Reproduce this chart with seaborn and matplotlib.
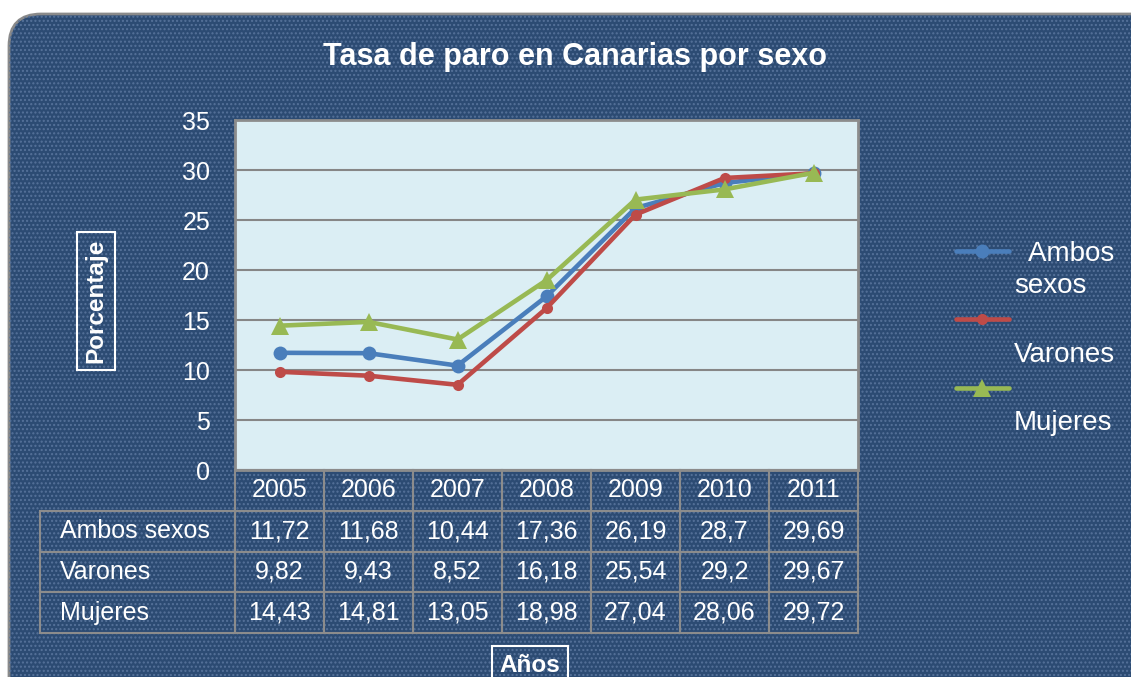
import numpy as np
import pandas as pd
import seaborn as sns
import matplotlib.pyplot as plt
from matplotlib.patches import FancyBboxPatch

years = ["2005", "2006", "2007", "2008", "2009", "2010", "2011"]
ambos = [11.72, 11.68, 10.44, 17.36, 26.19, 28.7, 29.69]
varones = [9.82, 9.43, 8.52, 16.18, 25.54, 29.2, 29.67]
mujeres = [14.43, 14.81, 13.05, 18.98, 27.04, 28.06, 29.72]
series_names = ["Ambos sexos", "Varones", "Mujeres"]
legend_labels = ["  Ambos\nsexos", "\nVarones", "\nMujeres"]
series_colors = ["#4A7EBB", "#BE4B48", "#98B954"]
series_markers = ["o", "o", "^"]
series_msize = [10, 8, 13]

df = pd.DataFrame({
    "x": np.tile(np.arange(len(years)), 3),
    "valor": ambos + varones + mujeres,
    "serie": np.repeat(series_names, len(years)),
})

sns.set_theme(style="white")
plt.rcParams['font.family'] = ['Liberation Sans', 'DejaVu Sans']

W, H = 1131, 677
fig = plt.figure(figsize=(W / 100, H / 100), dpi=100)
fig.patch.set_facecolor("white")

# fondo azul con trama
bg = FancyBboxPatch((0.09, -0.5), 12, 6.63 + 0.5,
                    boxstyle="round,pad=0,rounding_size=0.32",
                    transform=fig.dpi_scale_trans, facecolor="#2C4B73",
                    edgecolor="#8a8a8a", linewidth=2, zorder=-5)
fig.patches.append(bg)
bg2 = FancyBboxPatch((0.09, -0.5), 12, 6.63 + 0.5,
                     boxstyle="round,pad=0,rounding_size=0.32",
                     transform=fig.dpi_scale_trans, facecolor="none",
                     edgecolor="#56729a", hatch="....", linewidth=0, zorder=-4)
fig.patches.append(bg2)

ax = fig.add_axes([235 / W, (H - 470) / H, 623 / W, 350 / H])
ax.set_facecolor("#DBEEF4")

for name, col, mk, ms in zip(series_names, series_colors, series_markers, series_msize):
    sub = df[df["serie"] == name]
    sns.lineplot(data=sub, x="x", y="valor", color=col, marker=mk, markersize=ms,
                 markeredgewidth=0, linewidth=3.3, ax=ax, label=name, zorder=3)

ax.set_xlim(-0.5, len(years) - 0.5)
ax.set_ylim(0, 35)
ax.set_yticks(range(0, 36, 5))
ax.set_xticks([])
ax.set_xlabel("")
ax.set_ylabel("")
ax.yaxis.grid(True, color="#868686", linewidth=1.5)
ax.tick_params(axis="y", length=0, pad=18, labelsize=18, labelcolor="white")
for sp in ax.spines.values():
    sp.set_visible(True)
    sp.set_color("#8c8c8c")
    sp.set_linewidth(2)

handles = ax.get_lines()[:3]
leg = ax.legend(handles, legend_labels, loc="upper left", bbox_to_anchor=(931 / W, 1 - 216 / H),
                bbox_transform=fig.transFigure, frameon=False, fontsize=20, labelcolor="white",
                handlelength=1.9, handletextpad=0.18, labelspacing=0.38)
for t in leg.get_texts():
    t.set_linespacing(1.3)
# el símbolo a la altura de la primera línea del texto
for col_box in leg._legend_handle_box.get_children():
    for row_box in col_box.get_children():
        row_box.align = "top"

# tabla de datos
rows = [[""] + years]
for name, vals in zip(series_names, [ambos, varones, mujeres]):
    rows.append([name] + [str(v).replace(".", ",") for v in vals])
widths = [195] + [89] * len(years)
tab = ax.table(cellText=rows, colWidths=[w / sum(widths) for w in widths],
               cellLoc="center", bbox=[-195 / 623, -163 / 350, 818 / 623, 163 / 350])
tab.auto_set_font_size(False)
tab.set_fontsize(18)
for (r, c), cell in tab.get_celld().items():
    cell.set_facecolor("none")
    cell.set_edgecolor("#8c8c8c")
    cell.set_linewidth(1.5)
    cell.get_text().set_color("white")
    if c == 0:
        cell.get_text().set_horizontalalignment("left")
        cell.PAD = 0.1
    if r == 0 and c == 0:
        cell.visible_edges = ""

fig.text(575 / W, 1 - 57 / H, "Tasa de paro en Canarias por sexo", ha="center", va="center",
         color="white", fontsize=22, fontweight="bold")
fig.text(96 / W, 1 - 301 / H, "Porcentaje", rotation=90, ha="center", va="center",
         color="white", fontsize=17.5, fontweight="bold",
         bbox=dict(boxstyle="square,pad=0.3", facecolor="none", edgecolor="white", linewidth=1.5))
fig.text(530 / W, 1 - 665 / H, "Años", ha="center", va="center",
         color="white", fontsize=17.5, fontweight="bold",
         bbox=dict(boxstyle="square,pad=0.3", facecolor="none", edgecolor="white", linewidth=1.5))

fig.savefig("out.png", dpi=100)
